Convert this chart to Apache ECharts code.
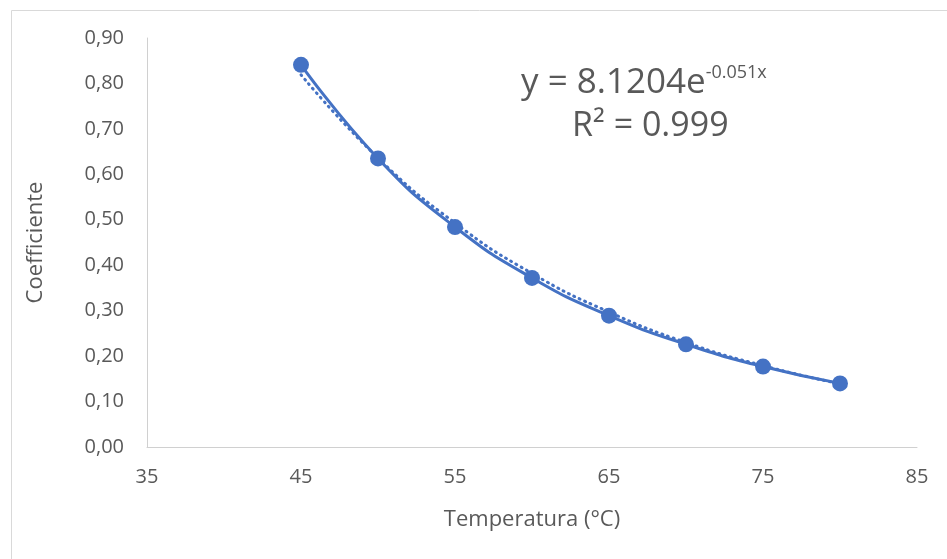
<!DOCTYPE html>
<html><head><meta charset="utf-8">
<script src="https://cdn.jsdelivr.net/npm/echarts@6/dist/echarts.min.js"></script>
<style>html,body{margin:0;padding:0;background:#fff}#c{width:947px;height:559px}</style>
</head><body><div id="c"></div>
<script>
const temperatures = [45, 50, 55, 60, 65, 70, 75, 80];
const coefficients = [0.841, 0.635, 0.484, 0.372, 0.289, 0.226, 0.177, 0.140];
const trendValues = [0.819, 0.636, 0.493, 0.382, 0.297, 0.230, 0.179, 0.139];
const xTicks = [35, 45, 55, 65, 75, 85];
const yTicks = [0, 0.1, 0.2, 0.3, 0.4, 0.5, 0.6, 0.7, 0.8, 0.9];
const eqMain = 'y = 8.1204e';
const eqExp = '-0.051x';
const r2Text = 'R² = 0.999';

const chart = echarts.init(document.getElementById('c'));
const gray = '#595959';
const font = 'Open Sans';
chart.setOption({
  animation: false,
  grid: {left: 147, right: 30, top: 38, bottom: 112},
  xAxis: {
    type: 'value', min: xTicks[0], max: xTicks[xTicks.length-1], interval: 10,
    name: 'Temperatura (°C)', nameLocation: 'middle', nameGap: 62,
    nameTextStyle: {color: gray, fontSize: 22, fontFamily: font},
    axisLine: {show: true, lineStyle: {color: '#d0d0d0', width: 1}},
    axisTick: {show: false}, splitLine: {show: false},
    axisLabel: {color: gray, fontSize: 20, fontFamily: font, margin: 20}
  },
  yAxis: {
    type: 'value', min: yTicks[0], max: yTicks[yTicks.length-1], interval: 0.1,
    name: 'Coefficiente', nameLocation: 'middle', nameGap: 100,
    nameTextStyle: {color: gray, fontSize: 22, fontFamily: font},
    axisLine: {show: true, lineStyle: {color: '#d0d0d0', width: 1}},
    axisTick: {show: false}, splitLine: {show: false},
    axisLabel: {color: gray, fontSize: 20, fontFamily: font, margin: 23,
      formatter: v => v.toFixed(2).replace('.', ',')}
  },
  graphic: [
    {type: 'rect', left: 9, top: 8, shape: {width: 936, height: 549},
     style: {fill: 'none', stroke: '#d9d9d9', lineWidth: 1}, silent: true},
    {type: 'text', left: 521, top: 64,
     style: {text: '{m|' + eqMain + '}{s|' + eqExp + '}',
       rich: {m: {fontSize: 35, fill: gray, fontFamily: font, verticalAlign: 'bottom'},
              s: {fontSize: 18, fill: gray, fontFamily: font, verticalAlign: 'top', padding: [0,0,19,0]}}}},
    {type: 'text', left: 572, top: 109,
     style: {text: r2Text, fontSize: 34, fill: gray, fontFamily: font}}
  ],
  series: [
    {type: 'line', data: temperatures.map((t, i) => [t, trendValues[i]]),
     smooth: true, symbol: 'none', z: 1,
     lineStyle: {color: '#4472C4', width: 3, type: [1, 5], cap: 'round'}},
    {type: 'line', data: temperatures.map((t, i) => [t, coefficients[i]]),
     smooth: true, symbol: 'circle', symbolSize: 16, z: 2,
     lineStyle: {color: '#4472C4', width: 3},
     itemStyle: {color: '#4472C4'}}
  ]
});
</script></body></html>
